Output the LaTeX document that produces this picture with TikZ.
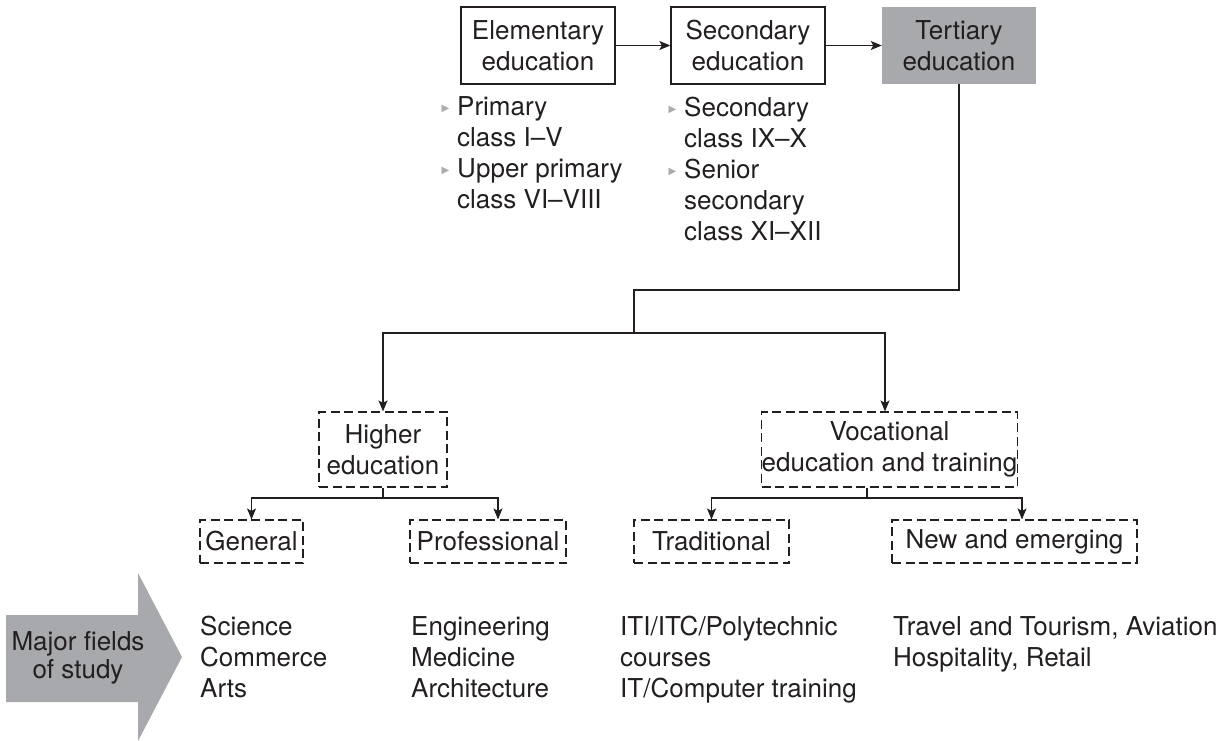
\documentclass[tikz,border=0pt]{standalone}
\usepackage{fontspec}
\setmainfont{TeX Gyre Heros}
\newfontfamily\symfont{DejaVu Sans}
\usetikzlibrary{arrows.meta}
\definecolor{ink}{HTML}{231F20}
\definecolor{panelgray}{HTML}{A7A9AC}
\definecolor{bulgray}{HTML}{A9ABAE}
% small grey triangle hanging to the left of a list item
\newcommand{\listmark}{\llap{\raisebox{4pt}{\symfont\fontsize{10}{10}\selectfont\color{bulgray}▶}\hspace{8pt}}}
\begin{document}
\begin{tikzpicture}[x=1pt,y=-1pt,
  font=\fontsize{26}{31}\selectfont, text=ink,
  line/.style={draw=ink, line width=1.3pt},
  conn/.style={line, -{Stealth[length=11pt,width=9pt,inset=2.5pt]}},
  solidbox/.style={draw=ink, line width=1.3pt, minimum width=#1, minimum height=77pt,
    inner sep=0pt, align=center},
  shadedbox/.style={fill=panelgray, minimum width=#1, minimum height=77pt,
    inner sep=0pt, align=center},
  dashbox/.style 2 args={draw=ink, line width=1.1pt, dash pattern=on 9pt off 4.5pt,
    minimum width=#1, minimum height=#2, inner sep=0pt, align=center},
  textblock/.style={anchor=north west, inner sep=0pt, align=left}]
\useasboundingbox (0,0) rectangle (1226,741);

% school stages
\node[solidbox=154pt] (elem) at (538,45.5) {Elementary\\education};
\node[solidbox=154pt] (sec) at (748,45.5) {Secondary\\education};
\node[shadedbox=154pt] (ter) at (959,45.5) {Tertiary\\education};
\draw[conn] (elem) -- (sec);
\draw[conn] (sec) -- (ter);

% class ranges under each stage
\node[textblock] (elemlist) at (457,96.5)
  {\listmark Primary\\class I–V\\\listmark Upper primary\\class VI–VIII};
\node[textblock] (seclist) at (684,96.5)
  {\listmark Secondary\\class IX–X\\\listmark Senior\\secondary\\class XI–XII};

% tertiary branches
\node[dashbox={128pt}{75pt}] (higher) at (383,449.5) {Higher\\education};
\node[dashbox={255pt}{75pt}] (voc) at (889.5,449.5) {Vocational\\education and training};

\coordinate (t1) at (634,290);
\coordinate (t2) at (634,333);
\coordinate (vin) at (885,333);
\draw[line] (ter.south) |- (t1) -- (t2);
\draw[conn] (t2) -| (higher.north);
\draw[conn] (t2) -- (vin) -- (vin |- voc.north);

% streams
\node[dashbox={103pt}{43pt}] (gen) at (251.5,541.5) {General};
\node[dashbox={156pt}{43pt}] (prof) at (488,541.5) {Professional};
\node[dashbox={155pt}{43pt}] (trad) at (711.5,541.5) {Traditional};
\node[dashbox={245pt}{43pt}] (new) at (1014.5,541.5) {New and emerging};

\coordinate (hj) at (383,498);
\coordinate (pj) at (498,498);
\draw[line] (higher.south) -- (hj);
\draw[conn] (hj) -| (gen.north);
\draw[conn] (hj) -- (pj) -- (pj |- prof.north);

\coordinate (vj) at (867,498);
\coordinate (nj) at (1022,498);
\draw[line] (vj |- voc.south) -- (vj);
\draw[conn] (vj) -| (trad.north);
\draw[conn] (vj) -- (nj) -- (nj |- new.north);

% major fields of study
\fill[panelgray] (6,615) -- (138,615) -- (138,573) -- (182,657) -- (138,741)
  -- (138,702) -- (6,702) -- cycle;
\node[align=center, inner sep=0pt, font=\fontsize{26}{28}\selectfont] (fields) at (78,658)
  {Major fields\\of study};

\node[textblock] (genf) at (200,616) {Science\\Commerce\\Arts};
\node[textblock] (proff) at (411,616) {Engineering\\Medicine\\Architecture};
\node[textblock] (tradf) at (620,616) {ITI/ITC/Polytechnic\\courses\\IT/Computer training};
\node[textblock] (newf) at (893,616) {Travel and Tourism, Aviation\\Hospitality, Retail};
\end{tikzpicture}
\end{document}
